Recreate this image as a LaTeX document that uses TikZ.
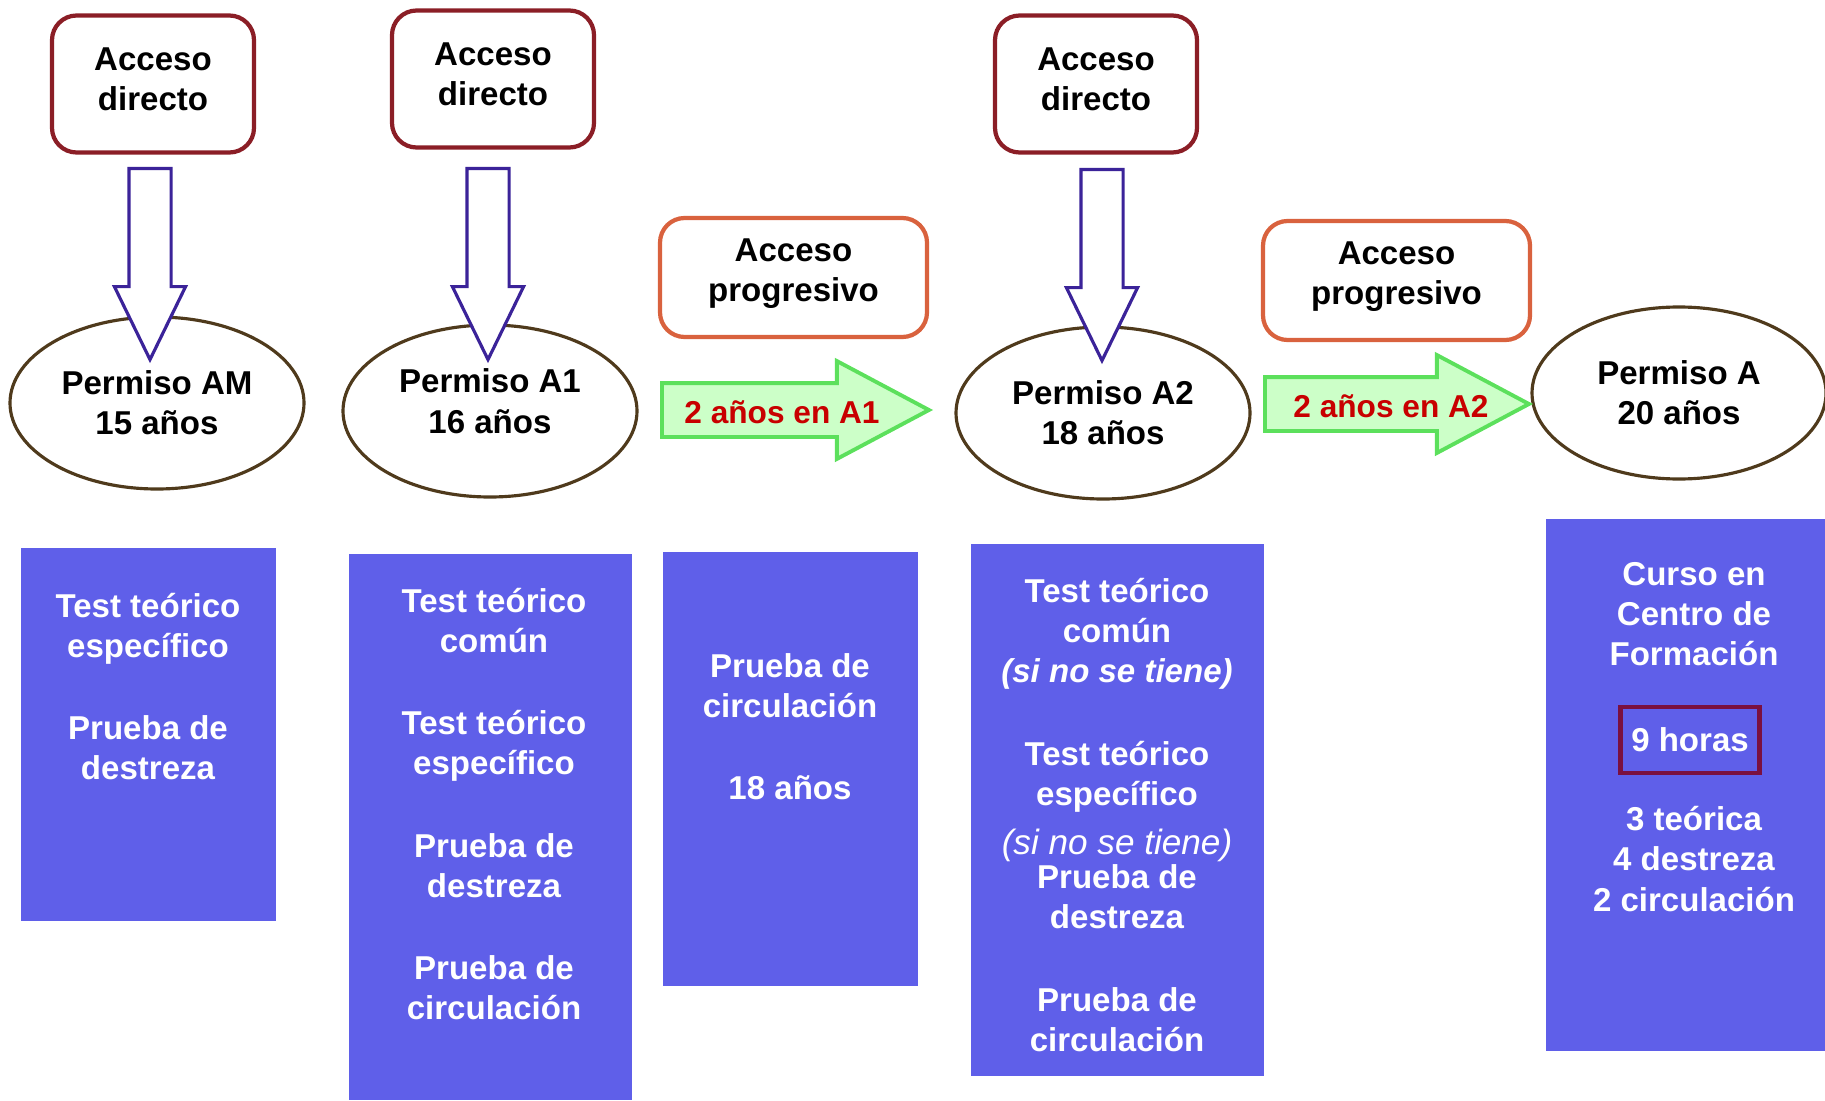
\documentclass[tikz,border=0pt]{standalone}
\usepackage{fontspec}
\setmainfont{Liberation Sans}
\usetikzlibrary{shapes.geometric,shapes.arrows}

\definecolor{directred}{HTML}{8B1E26}
\definecolor{progred}{HTML}{D9623E}
\definecolor{permitbrown}{HTML}{4F3A1C}
\definecolor{arrowblue}{HTML}{3B2399}
\definecolor{stepblue}{HTML}{5F5FE9}
\definecolor{arrowgreen}{HTML}{5CE05C}
\definecolor{arrowfill}{HTML}{CCFFC8}
\definecolor{yearsred}{HTML}{C80000}
\definecolor{hoursred}{HTML}{7A1040}

\tikzset{
  every node/.style={font=\fontsize{9.4}{11.4}\selectfont\bfseries, align=center, inner sep=0pt},
  direct/.style={draw=directred, line width=1.2pt, rounded corners=7pt, minimum width=2.02cm, minimum height=1.37cm, text depth=0.1cm},
  progressive/.style={draw=progred, line width=1.2pt, rounded corners=7pt, minimum width=2.67cm, minimum height=1.19cm, text depth=0.14cm},
  permit/.style={ellipse, draw=permitbrown, line width=0.9pt, minimum width=2.94cm, minimum height=1.72cm},
  blockdown/.style={single arrow, draw=arrowblue, fill=white, line width=0.9pt, rotate=-90,
    inner xsep=0pt, inner ysep=0.195cm, minimum height=1.91cm, minimum width=0.68cm,
    single arrow head extend=0.145cm, single arrow tip angle=52, anchor=tail},
  blockright/.style={single arrow, draw=arrowgreen, fill=arrowfill, line width=1.1pt,
    inner xsep=0pt, inner ysep=0.25cm, minimum width=0.94cm,
    single arrow head extend=0.22cm, single arrow tip angle=56, anchor=tail},
  stepbox/.style={fill=stepblue},
  steptext/.style={text=white},
}

\begin{document}
\begin{tikzpicture}
  \useasboundingbox (0,0) rectangle (18.25,-11);

  % access boxes
  \node[direct] (d1) at (1.53,-0.84) {Acceso\\directo};
  \node[direct] (d2) at (4.93,-0.79) {Acceso\\directo};
  \node[direct] (d3) at (10.96,-0.84) {Acceso\\directo};
  \node[progressive] (p1) at (7.935,-2.775) {Acceso\\progresivo};
  \node[progressive] (p2) at (13.965,-2.805) {Acceso\\progresivo};

  % permits
  \node[permit] (e1) at (1.57,-4.03) {Permiso AM\\15 años};
  \node[permit, text depth=0.2cm] (e2) at (4.90,-4.11) {Permiso A1\\16 años};
  \node[permit] (e3) at (11.03,-4.13) {Permiso A2\\18 años};
  \node[permit] (e4) at (16.79,-3.93) {Permiso A\\20 años};

  \node[blockdown] (a1) at (1.50,-1.67) {};
  \node[blockdown] (a2) at (4.88,-1.67) {};
  \node[blockdown] (a3) at (11.02,-1.68) {};

  \node[blockright, minimum height=2.67cm] (g1) at (6.60,-4.10) {};
  \node[blockright, minimum height=2.64cm] (g2) at (12.63,-4.04) {};
  \node[text=yearsred, font=\fontsize{9}{11}\selectfont\bfseries] (g1t) at (7.82,-4.12) {2 años en A1};
  \node[text=yearsred, font=\fontsize{9}{11}\selectfont\bfseries] (g2t) at (13.91,-4.06) {2 años en A2};

  % requirements
  \node[stepbox, minimum width=2.55cm, minimum height=3.73cm] (s1) at (1.485,-7.345) {};
  \node[stepbox, minimum width=2.83cm, minimum height=5.46cm] (s2) at (4.905,-8.27) {};
  \node[stepbox, minimum width=2.55cm, minimum height=4.34cm] (s3) at (7.905,-7.69) {};
  \node[stepbox, minimum width=2.93cm, minimum height=5.32cm] (s4) at (11.175,-8.10) {};
  \node[stepbox, minimum width=2.79cm, minimum height=5.32cm] (s5) at (16.855,-7.85) {};

  \node[steptext] (t1) at (1.48,-6.865) {Test teórico\\específico\\[12pt]Prueba de\\destreza};
  \node[steptext] (t2) at (4.94,-8.04) {Test teórico\\común\\[12pt]Test teórico\\específico\\[12pt]Prueba de\\destreza\\[12pt]Prueba de\\circulación};
  \node[steptext] (t3) at (7.90,-7.27) {Prueba de\\circulación\\[12pt]18 años};
  \node[steptext] (t4) at (11.17,-8.15) {Test teórico\\común\\{\itshape (si no se tiene)}\\[12pt]Test teórico\\específico\\[2.5pt]{\mdseries\itshape\fontsize{10}{12}\selectfont (si no se tiene)}\\[-1.5pt]Prueba de\\destreza\\[12pt]Prueba de\\circulación};
  \node[steptext] (t5) at (16.94,-6.145) {Curso en\\Centro de\\Formación};
  \node[steptext, draw=hoursred, line width=1.2pt, minimum width=1.39cm, minimum height=0.66cm] (h9) at (16.90,-7.40) {9 horas};
  \node[steptext] (t6) at (16.94,-8.59) {3 teórica\\4 destreza\\2 circulación};
\end{tikzpicture}
\end{document}
